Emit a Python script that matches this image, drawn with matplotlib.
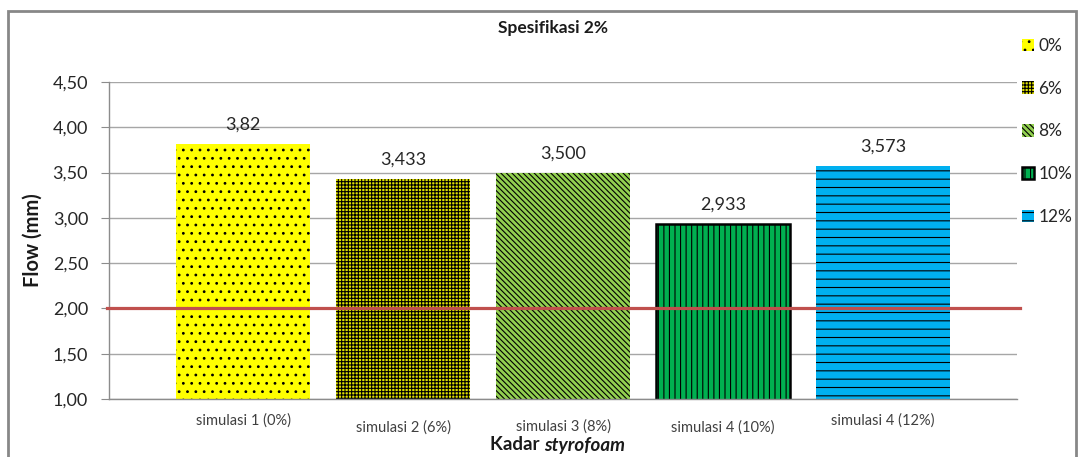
import numpy as np
import matplotlib.pyplot as plt
from matplotlib.patches import Rectangle

plt.rcParams['font.family'] = ['Lato', 'DejaVu Sans']
plt.rcParams['hatch.linewidth'] = 0.8

# data
categories = ['simulasi 1 (0%)', 'simulasi 2 (6%)', 'simulasi 3 (8%)',
              'simulasi 4 (10%)', 'simulasi 4 (12%)']
flow = [3.82, 3.433, 3.500, 2.933, 3.573]
value_labels = ['3,82', '3,433', '3,500', '2,933', '3,573']
legend_labels = ['0%', '6%', '8%', '10%', '12%']
spec_limit = 2.0
yticks = [1.0, 1.5, 2.0, 2.5, 3.0, 3.5, 4.0, 4.5]

colors = ['#FFFF00', '#E0E000', '#92D050', '#00B050', '#00B0F0']
hatches = ['..', '+++++', '\\' * 6, '|||', '--']

fig = plt.figure(figsize=(10.8, 4.57), dpi=100)
ax = fig.add_axes([109 / 1080, 58 / 457, 908 / 1080, 317 / 457])

x = np.arange(len(categories))
bars = []
for i in range(len(categories)):
    lw = 1.8 if i == 3 else 0
    b = ax.bar(x[i], flow[i], bottom=0, width=0.8375, color=colors[i],
               edgecolor='black', linewidth=lw, hatch=hatches[i], zorder=2,
               label=legend_labels[i])
    bars.append(b)
    ax.annotate(value_labels[i], xy=(x[i], flow[i]), xytext=(0, 11),
                textcoords='offset pixels', ha='center', va='bottom',
                fontsize=13, color='#262626')

ax.axhline(spec_limit, xmin=-0.002, xmax=1.003, color='#C0504D', lw=2.3,
           zorder=3, clip_on=False)

ax.set_xlim(-0.8375, 4.8375)
ax.set_ylim(1.0, 4.5)
ax.set_yticks(yticks)
ax.set_yticklabels([f'{v:.2f}'.replace('.', ',') for v in yticks],
                   fontsize=13, color='#262626')
ax.set_xticks(x)
ax.set_xticklabels([])
ax.tick_params(axis='x', length=0)
ax.tick_params(axis='y', length=6, color='#8C8C8C', pad=9)
ax.grid(axis='y', color='#A6A6A6', lw=1, zorder=0)
ax.set_axisbelow(True)
for s in ['top', 'right']:
    ax.spines[s].set_visible(False)
for s in ['left', 'bottom']:
    ax.spines[s].set_color('#8C8C8C')
    ax.spines[s].set_linewidth(1)

# staggered category labels
for i, lab in enumerate(categories):
    off = -22 if i % 2 == 0 else -29
    if i == 2:
        off = -28
    ax.annotate(lab, xy=(x[i], 0), xycoords=('data', 'axes fraction'),
                xytext=(0, off), textcoords='offset pixels', ha='center',
                va='center', fontsize=10.5, color='#404040')

fig.text(553 / 1080, 1 - 28 / 457, 'Spesifikasi 2%', ha='center', va='center',
         fontsize=12.5, fontweight='bold', color='#1a1a1a')
fig.text(33 / 1080, 1 - 240 / 457, 'Flow (mm)', ha='center', va='center',
         rotation=90, fontsize=14.5, fontweight='bold', color='#1a1a1a')

t1 = fig.text(0, 1 - 445 / 457, 'Kadar ', ha='left', va='center',
              fontsize=13.5, fontweight='bold', color='#1a1a1a')
t2 = fig.text(0, 1 - 445 / 457, 'styrofoam', ha='left', va='center',
              fontsize=13.5, fontweight='bold', style='italic', color='#1a1a1a')
fig.canvas.draw()
r = fig.canvas.get_renderer()
w1 = t1.get_window_extent(r).width
w2 = t2.get_window_extent(r).width
start = 558 - (w1 + w2) / 2
t1.set_x(start / 1080)
t2.set_x((start + w1) / 1080)

fig.legend(handles=bars, labels=legend_labels, loc='upper left',
           bbox_to_anchor=(1013 / 1080, 1 - 29 / 457), frameon=False,
           fontsize=12.5, handlelength=0.7, handleheight=0.7, handletextpad=0.25,
           labelspacing=1.55, borderpad=0, labelcolor='#262626')

fig.add_artist(Rectangle((8 / 1080, -0.05), 1068 / 1080, 1.05 - 11 / 457,
                         transform=fig.transFigure, fill=False,
                         edgecolor='#878787', lw=2))

fig.savefig('out.png', dpi=100)
